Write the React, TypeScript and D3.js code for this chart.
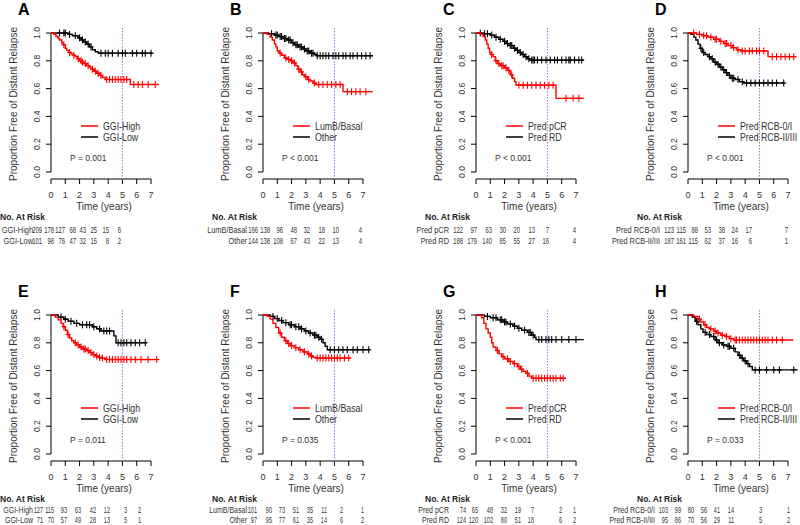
import React from 'react';
import * as d3 from 'd3';

type Step = [number, number];

// ---------------- DATA ----------------
const panelLetters = ['A', 'B', 'C', 'D', 'E', 'F', 'G', 'H'];
const groupLabels: [string, string][] = [
  ['GGI-High', 'GGI-Low'],
  ['LumB/Basal', 'Other'],
  ['Pred pCR', 'Pred RD'],
  ['Pred RCB-0/I', 'Pred RCB-II/III'],
  ['GGI-High', 'GGI-Low'],
  ['LumB/Basal', 'Other'],
  ['Pred pCR', 'Pred RD'],
  ['Pred RCB-0/I', 'Pred RCB-II/III'],
];
const pLabels = ['P = 0.001', 'P < 0.001', 'P < 0.001', 'P < 0.001', 'P = 0.011', 'P = 0.035', 'P < 0.001', 'P = 0.033'];
const timeTicks = [0, 1, 2, 3, 4, 5, 6, 7];
const survTicks = [0, 0.2, 0.4, 0.6, 0.8, 1.0];
const landmarkYear = 5;

// Kaplan-Meier steps [time, survival after drop]; censor times; last follow-up
const stepsA1: Step[] = [[0.2, 0.99], [0.35, 0.975], [0.5, 0.96], [0.6, 0.95], [0.75, 0.93], [0.85, 0.915], [1.0, 0.89], [1.1, 0.875], [1.25, 0.86], [1.4, 0.85], [1.55, 0.84], [1.7, 0.83], [1.85, 0.815], [2.0, 0.8], [2.15, 0.79], [2.3, 0.78], [2.5, 0.765], [2.65, 0.755], [2.8, 0.74], [3.0, 0.725], [3.2, 0.71], [3.4, 0.695], [3.6, 0.68], [3.8, 0.665], [5.55, 0.63]];
const censA1 = [0.9, 1.3, 1.6, 1.9, 2.1, 2.2, 2.4, 2.6, 2.9, 3.1, 3.3, 3.5, 3.9, 4.1, 4.3, 4.5, 4.7, 4.9, 5.1, 5.3, 5.8, 6.1, 6.4, 6.8, 7.3];
const stepsA2: Step[] = [[1.2, 0.99], [1.5, 0.98], [1.9, 0.965], [2.1, 0.95], [2.3, 0.935], [2.5, 0.92], [2.7, 0.9], [2.9, 0.88], [3.1, 0.865], [3.3, 0.855]];
const censA2 = [0.6, 0.9, 1.0, 1.3, 1.7, 2.0, 2.2, 2.4, 2.6, 2.8, 3.5, 3.8, 4.0, 4.3, 4.7, 5.0, 5.2, 5.7, 6.0, 6.4, 6.6, 7.0];

const stepsB1: Step[] = [[0.3, 0.99], [0.5, 0.97], [0.65, 0.95], [0.8, 0.92], [0.9, 0.9], [1.0, 0.87], [1.15, 0.855], [1.3, 0.84], [1.5, 0.82], [1.7, 0.81], [1.9, 0.8], [2.1, 0.785], [2.3, 0.765], [2.45, 0.74], [2.6, 0.72], [2.75, 0.7], [2.9, 0.685], [3.1, 0.665], [3.3, 0.655], [3.5, 0.64], [3.7, 0.63], [5.6, 0.578]];
const censB1 = [1.2, 1.6, 1.8, 2.0, 2.2, 2.5, 2.7, 3.0, 3.2, 3.6, 3.9, 4.2, 4.5, 4.8, 5.1, 5.4, 5.9, 6.2, 6.5, 6.8, 7.2];
const stepsB2: Step[] = [[0.4, 0.995], [0.8, 0.985], [1.1, 0.975], [1.4, 0.96], [1.7, 0.95], [2.0, 0.93], [2.2, 0.915], [2.5, 0.9], [2.8, 0.885], [3.0, 0.87], [3.3, 0.855], [3.6, 0.845], [3.75, 0.836]];
const censB2 = [0.6, 0.9, 1.0, 1.2, 1.3, 1.5, 1.6, 1.8, 1.9, 2.1, 2.3, 2.4, 2.6, 2.7, 2.9, 3.1, 3.2, 3.4, 3.5, 3.8, 4.0, 4.2, 4.4, 4.6, 4.9, 5.1, 5.3, 5.6, 5.8, 6.1, 6.3, 6.6, 6.9, 7.2, 7.5];

const stepsC1: Step[] = [[0.3, 0.99], [0.5, 0.975], [0.65, 0.95], [0.75, 0.92], [0.85, 0.89], [0.95, 0.86], [1.05, 0.845], [1.2, 0.83], [1.35, 0.8], [1.5, 0.78], [1.7, 0.765], [2.0, 0.75], [2.2, 0.73], [2.4, 0.7], [2.55, 0.675], [2.7, 0.65], [2.8, 0.625], [5.6, 0.53]];
const censC1 = [1.1, 1.4, 1.6, 1.8, 1.9, 2.1, 2.3, 2.5, 3.0, 3.3, 3.6, 3.9, 4.2, 4.5, 4.8, 5.1, 5.4, 6.3, 6.8, 7.2];
const stepsC2: Step[] = [[0.5, 0.995], [1.0, 0.985], [1.3, 0.97], [1.6, 0.955], [1.9, 0.94], [2.1, 0.925], [2.3, 0.91], [2.6, 0.89], [2.8, 0.875], [3.0, 0.86], [3.2, 0.845], [3.4, 0.83], [3.6, 0.815], [3.8, 0.805]];
const censC2 = [0.3, 0.6, 0.8, 1.1, 1.4, 1.7, 2.0, 2.2, 2.4, 2.5, 2.7, 2.9, 3.1, 3.3, 3.5, 3.7, 3.9, 4.0, 4.1, 4.3, 4.6, 4.9, 5.2, 5.5, 5.7, 6.0, 6.3, 6.5, 6.6, 6.9, 7.2, 7.4];

const stepsD1: Step[] = [[0.6, 0.99], [1.0, 0.98], [1.4, 0.97], [1.8, 0.955], [2.2, 0.94], [2.5, 0.925], [2.8, 0.91], [3.1, 0.895], [3.4, 0.88], [3.7, 0.87], [5.6, 0.83]];
const censD1 = [0.4, 0.8, 1.1, 1.3, 1.6, 1.9, 2.0, 2.3, 2.6, 2.7, 3.0, 3.2, 3.5, 3.8, 4.0, 4.3, 4.5, 4.8, 5.0, 5.3, 5.9, 6.2, 6.5, 6.8, 7.1, 7.4];
const stepsD2: Step[] = [[0.2, 0.99], [0.4, 0.97], [0.55, 0.95], [0.7, 0.92], [0.85, 0.89], [1.0, 0.86], [1.2, 0.845], [1.4, 0.83], [1.6, 0.815], [1.8, 0.79], [2.0, 0.775], [2.2, 0.755], [2.4, 0.735], [2.6, 0.715], [2.8, 0.695], [3.0, 0.675], [3.3, 0.665], [3.6, 0.65], [3.9, 0.64]];
const censD2 = [0.9, 1.1, 1.5, 1.7, 1.9, 2.1, 2.3, 2.5, 2.7, 2.9, 3.1, 3.2, 3.5, 3.8, 4.1, 4.4, 4.7, 5.0, 5.3, 5.6, 5.9, 6.2, 6.7];

const stepsE1: Step[] = [[0.3, 0.985], [0.5, 0.965], [0.7, 0.94], [0.85, 0.915], [1.0, 0.89], [1.15, 0.86], [1.3, 0.835], [1.45, 0.815], [1.6, 0.8], [1.8, 0.785], [2.0, 0.77], [2.2, 0.755], [2.5, 0.745], [2.7, 0.73], [2.9, 0.715], [3.1, 0.705], [3.3, 0.695], [3.5, 0.69], [3.8, 0.68]];
const censE1 = [0.9, 1.2, 1.7, 1.9, 2.1, 2.3, 2.4, 2.6, 2.8, 3.0, 3.2, 3.4, 3.6, 3.9, 4.1, 4.3, 4.5, 4.7, 4.9, 5.1, 5.3, 5.6, 5.9, 6.3, 6.8, 7.4];
const stepsE2: Step[] = [[0.5, 0.985], [0.9, 0.97], [1.2, 0.955], [1.6, 0.94], [2.0, 0.93], [2.9, 0.915], [3.2, 0.9], [3.5, 0.885], [4.4, 0.85], [4.55, 0.8]];
const censE2 = [0.7, 1.0, 1.4, 1.8, 2.2, 2.5, 2.7, 3.0, 3.4, 3.7, 3.9, 4.1, 4.7, 4.9, 5.1, 5.3, 5.6, 5.9, 6.2, 6.6];

const stepsF1: Step[] = [[0.3, 0.99], [0.5, 0.97], [0.7, 0.94], [0.9, 0.91], [1.1, 0.87], [1.3, 0.84], [1.5, 0.815], [1.7, 0.795], [1.9, 0.78], [2.2, 0.765], [2.5, 0.75], [2.8, 0.735], [3.1, 0.72], [3.3, 0.705], [3.5, 0.695], [3.7, 0.69]];
const censF1 = [1.2, 1.6, 1.8, 2.0, 2.3, 2.6, 2.9, 3.2, 3.4, 3.8, 4.0, 4.2, 4.4, 4.6, 4.8, 5.0, 5.2, 5.4, 5.7, 6.0];
const stepsF2: Step[] = [[0.5, 0.99], [0.8, 0.975], [1.1, 0.96], [1.4, 0.945], [1.8, 0.93], [2.2, 0.915], [2.6, 0.9], [2.9, 0.885], [3.2, 0.87], [3.5, 0.855], [3.8, 0.84], [4.0, 0.825], [4.2, 0.8], [4.35, 0.775], [4.5, 0.75]];
const censF2 = [0.7, 1.0, 1.3, 1.6, 1.9, 2.0, 2.3, 2.5, 2.7, 3.0, 3.3, 3.6, 3.7, 3.9, 4.1, 4.7, 5.0, 5.3, 5.6, 5.9, 6.3, 6.6, 7.0, 7.4];

const stepsG1: Step[] = [[0.4, 0.98], [0.55, 0.94], [0.7, 0.9], [0.85, 0.87], [1.0, 0.84], [1.1, 0.8], [1.2, 0.77], [1.4, 0.745], [1.6, 0.72], [1.8, 0.7], [2.0, 0.685], [2.3, 0.665], [2.6, 0.65], [2.9, 0.63], [3.1, 0.61], [3.3, 0.595], [3.5, 0.58], [3.7, 0.56], [3.9, 0.545]];
const censG1 = [1.5, 1.9, 2.2, 2.4, 2.7, 3.0, 3.2, 3.6, 4.0, 4.2, 4.4, 4.6, 4.8, 5.0, 5.2, 5.4, 5.6, 5.9, 6.1];
const stepsG2: Step[] = [[0.6, 0.99], [1.0, 0.98], [1.5, 0.965], [1.9, 0.95], [2.2, 0.935], [2.6, 0.92], [2.9, 0.905], [3.2, 0.89], [3.6, 0.875], [3.9, 0.855], [4.1, 0.84], [4.2, 0.823]];
const censG2 = [0.8, 1.2, 1.4, 1.7, 1.8, 2.0, 2.1, 2.4, 2.7, 3.0, 3.4, 3.7, 3.8, 4.0, 4.4, 4.6, 4.9, 5.1, 5.3, 5.6, 6.0, 6.5, 7.0];

const stepsH1: Step[] = [[0.4, 0.99], [0.7, 0.97], [0.9, 0.95], [1.1, 0.93], [1.3, 0.91], [1.5, 0.9], [1.8, 0.885], [2.0, 0.87], [2.3, 0.855], [2.6, 0.845], [2.9, 0.83], [3.2, 0.82]];
const censH1 = [0.8, 1.2, 1.6, 1.9, 2.1, 2.4, 2.7, 3.0, 3.3, 3.4, 3.6, 3.8, 4.0, 4.2, 4.4, 4.6, 4.8, 5.0, 5.2, 5.4, 5.6, 5.9, 6.2, 6.6];
const stepsH2: Step[] = [[0.3, 0.985], [0.5, 0.955], [0.7, 0.93], [0.9, 0.9], [1.05, 0.875], [1.3, 0.86], [1.6, 0.845], [1.9, 0.82], [2.1, 0.8], [2.4, 0.785], [2.7, 0.775], [3.0, 0.76], [3.3, 0.735], [3.5, 0.71], [3.7, 0.69], [3.9, 0.67], [4.1, 0.65], [4.3, 0.63], [4.5, 0.605]];
const censH2 = [0.6, 1.2, 1.5, 1.8, 2.0, 2.2, 2.5, 2.8, 2.9, 3.2, 3.6, 3.8, 4.0, 4.2, 4.7, 5.0, 5.5, 6.0, 6.4, 7.4];

const redSteps = [stepsA1, stepsB1, stepsC1, stepsD1, stepsE1, stepsF1, stepsG1, stepsH1];
const blackSteps = [stepsA2, stepsB2, stepsC2, stepsD2, stepsE2, stepsF2, stepsG2, stepsH2];
const redCensor = [censA1, censB1, censC1, censD1, censE1, censF1, censG1, censH1];
const blackCensor = [censA2, censB2, censC2, censD2, censE2, censF2, censG2, censH2];
const redEnd = [7.55, 7.7, 7.55, 7.6, 7.5, 6.15, 6.3, 7.37];
const blackEnd = [7.1, 7.7, 7.55, 6.77, 6.7, 7.5, 7.55, 7.67];

// Number at risk at years 0..7
const riskRed = [
  [209, 178, 127, 68, 43, 25, 15, 6],
  [166, 138, 96, 48, 32, 18, 10, 4],
  [122, 97, 63, 30, 20, 13, 7, 4],
  [123, 115, 88, 53, 38, 24, 17, 7],
  [127, 115, 93, 63, 42, 12, 3, 2],
  [101, 90, 73, 51, 35, 11, 2, 1],
  [74, 65, 48, 32, 19, 7, 2, 1],
  [103, 99, 80, 56, 41, 14, 3, 1],
];
const riskBlack = [
  [101, 98, 76, 47, 32, 15, 8, 2],
  [144, 138, 108, 67, 43, 22, 13, 4],
  [188, 179, 140, 85, 55, 27, 16, 4],
  [187, 161, 115, 62, 37, 16, 6, 1],
  [71, 70, 57, 49, 28, 13, 5, 1],
  [97, 95, 77, 61, 35, 14, 6, 2],
  [124, 120, 102, 80, 51, 18, 6, 2],
  [95, 86, 70, 56, 29, 11, 5, 2],
];

// ---------------- LAYOUT ----------------
const AXIS_X = [51, 263, 476, 688];
const ROW_OFF = [0, 282];
const PLOT_W = 100;
const Y_TOP = 33;
const Y_BOT = 172;
const RISK_ROW_Y = [[232.5, 244], [230.5, 241]];
const RISK_FONT = [9.5, 9];
const riskCols = [
  [-9, 3, 14, 25, 35, 46, 58, 70],
  [-5, 7, 20, 34, 47, 62, 76, 99],
  [-13, 1, 16, 30, 44, 59, 73, 100],
  [-14, -2, 10, 23, 37, 50, 64, 100],
  [-8, 3, 16, 30, 45, 59, 76, 90],
  [-6, 9, 22, 36, 50, 64, 80, 101],
  [-10, 2, 17, 31, 45, 58, 86, 100],
  [-20, -7, 6, 19, 32, 46, 74, 102],
];
const riskLabelRight = [-18, -16, -27, -28, -18, -16, -27, -33];

const FONT = "'Liberation Sans', Arial, Helvetica, sans-serif";
const RED = '#ff0000';
const BLACK = '#000000';

function survAt(steps: Step[], t: number) {
  let s = 1;
  for (const [st, sv] of steps) if (st <= t) s = sv;
  return s;
}

function Curve({ steps, cens, end, color, x, y }: any) {
  const pts: Step[] = [[0, 1], ...steps, [end, steps[steps.length - 1][1]]];
  const line = d3.line<Step>().x(d => x(d[0])).y(d => y(d[1])).curve(d3.curveStepAfter);
  const marks = cens.filter((c: number) => c <= end).map((c: number) => {
    const cx = x(c), cy = y(survAt(steps, c));
    return `M${cx},${cy - 3.5}V${cy + 3.5}M${cx - 2.5},${cy}H${cx + 2.5}`;
  }).join('');
  return (
    <g>
      <path d={line(pts) || ''} fill="none" stroke={color} strokeWidth={1.4} />
      <path d={marks} fill="none" stroke={color} strokeWidth={1.1} />
    </g>
  );
}

function Panel({ idx }: { idx: number }) {
  const ax = AXIS_X[idx % 4];
  const row = Math.floor(idx / 4);
  const oy = ROW_OFF[row];
  const x = d3.scaleLinear().domain([0, 7]).range([ax, ax + PLOT_W]);
  const y = d3.scaleLinear().domain([0, 1]).range([oy + Y_BOT, oy + Y_TOP]);
  const xAxisY = oy + 179;
  const [lab1, lab2] = groupLabels[idx];
  return (
    <g fontFamily={FONT}>
      <text x={ax - 33} y={oy + 15} fontSize={16} fontWeight="bold">{panelLetters[idx]}</text>
      {/* y axis */}
      <path d={`M${ax},${y(0)}V${y(1)}`} stroke="#000" strokeWidth={1} />
      {survTicks.map(t => (
        <g key={t}>
          <path d={`M${ax - 5},${y(t)}H${ax}`} stroke="#000" />
          <text transform={`translate(${ax - 11},${y(t)}) rotate(-90)`} fontSize={8.5} textAnchor="middle" fill="#333">{t.toFixed(1)}</text>
        </g>
      ))}
      <text transform={`translate(${ax - 34},${oy + 104}) rotate(-90)`} fontSize={10} textAnchor="middle" fill="#333">Proportion Free of Distant Relapse</text>
      {/* x axis */}
      <path d={`M${x(0)},${xAxisY}H${x(7)}`} stroke="#000" />
      {timeTicks.map(t => (
        <g key={t}>
          <path d={`M${x(t)},${xAxisY}V${xAxisY + 5}`} stroke="#000" />
          <text x={x(t)} y={xAxisY + 19} fontSize={9} textAnchor="middle" fill="#333">{t}</text>
        </g>
      ))}
      <text x={ax + 53} y={oy + 210} fontSize={10} textAnchor="middle" fill="#333">Time (years)</text>
      {/* landmark */}
      <path d={`M${x(landmarkYear)},${oy + 28}V${oy + 181}`} stroke="#9c6ee0" strokeWidth={1} strokeDasharray="1.5,1.5" />
      {/* curves */}
      <Curve steps={blackSteps[idx]} cens={blackCensor[idx]} end={blackEnd[idx]} color={BLACK} x={x} y={y} />
      <Curve steps={redSteps[idx]} cens={redCensor[idx]} end={redEnd[idx]} color={RED} x={x} y={y} />
      {/* legend */}
      <path d={`M${ax + 30},${oy + 126}H${ax + 47}`} stroke={RED} strokeWidth={1.5} />
      <path d={`M${ax + 30},${oy + 137}H${ax + 47}`} stroke={BLACK} strokeWidth={1.5} />
      <g transform={`translate(${ax + 52},${oy + 129.5}) scale(0.88,1)`}>
        <text fontSize={10} fill="#333">{lab1}</text>
      </g>
      <g transform={`translate(${ax + 52},${oy + 140.5}) scale(0.88,1)`}>
        <text fontSize={10} fill="#333">{lab2}</text>
      </g>
      <text x={ax + 19} y={oy + 161} fontSize={8.5} fill="#333">{pLabels[idx]}</text>
      {/* at risk */}
      <text x={ax - 51} y={oy + 220} fontSize={8.5} fontWeight="bold" fill="#222">No. At Risk</text>
      {[riskRed[idx], riskBlack[idx]].map((vals, r) => (
        <g key={r}>
          <g transform={`translate(${ax + riskLabelRight[idx]},${oy + RISK_ROW_Y[row][r]}) scale(0.78,1)`}>
            <text fontSize={RISK_FONT[row]} textAnchor="end" fill="#333">{r === 0 ? lab1 : lab2}</text>
          </g>
          {vals.map((v, k) => (
            <g key={k} transform={`translate(${ax + riskCols[idx][k]},${oy + RISK_ROW_Y[row][r]}) scale(0.62,1)`}>
              <text fontSize={RISK_FONT[row]} textAnchor="end" fill="#333">{v}</text>
            </g>
          ))}
        </g>
      ))}
    </g>
  );
}

export default function App() {
  return (
    <svg width={800} height={525} style={{ position: 'absolute', left: 0, top: 0, background: '#fff' }}>
      <rect width={800} height={525} fill="#fff" />
      {panelLetters.map((_, i) => <Panel key={i} idx={i} />)}
    </svg>
  );
}
